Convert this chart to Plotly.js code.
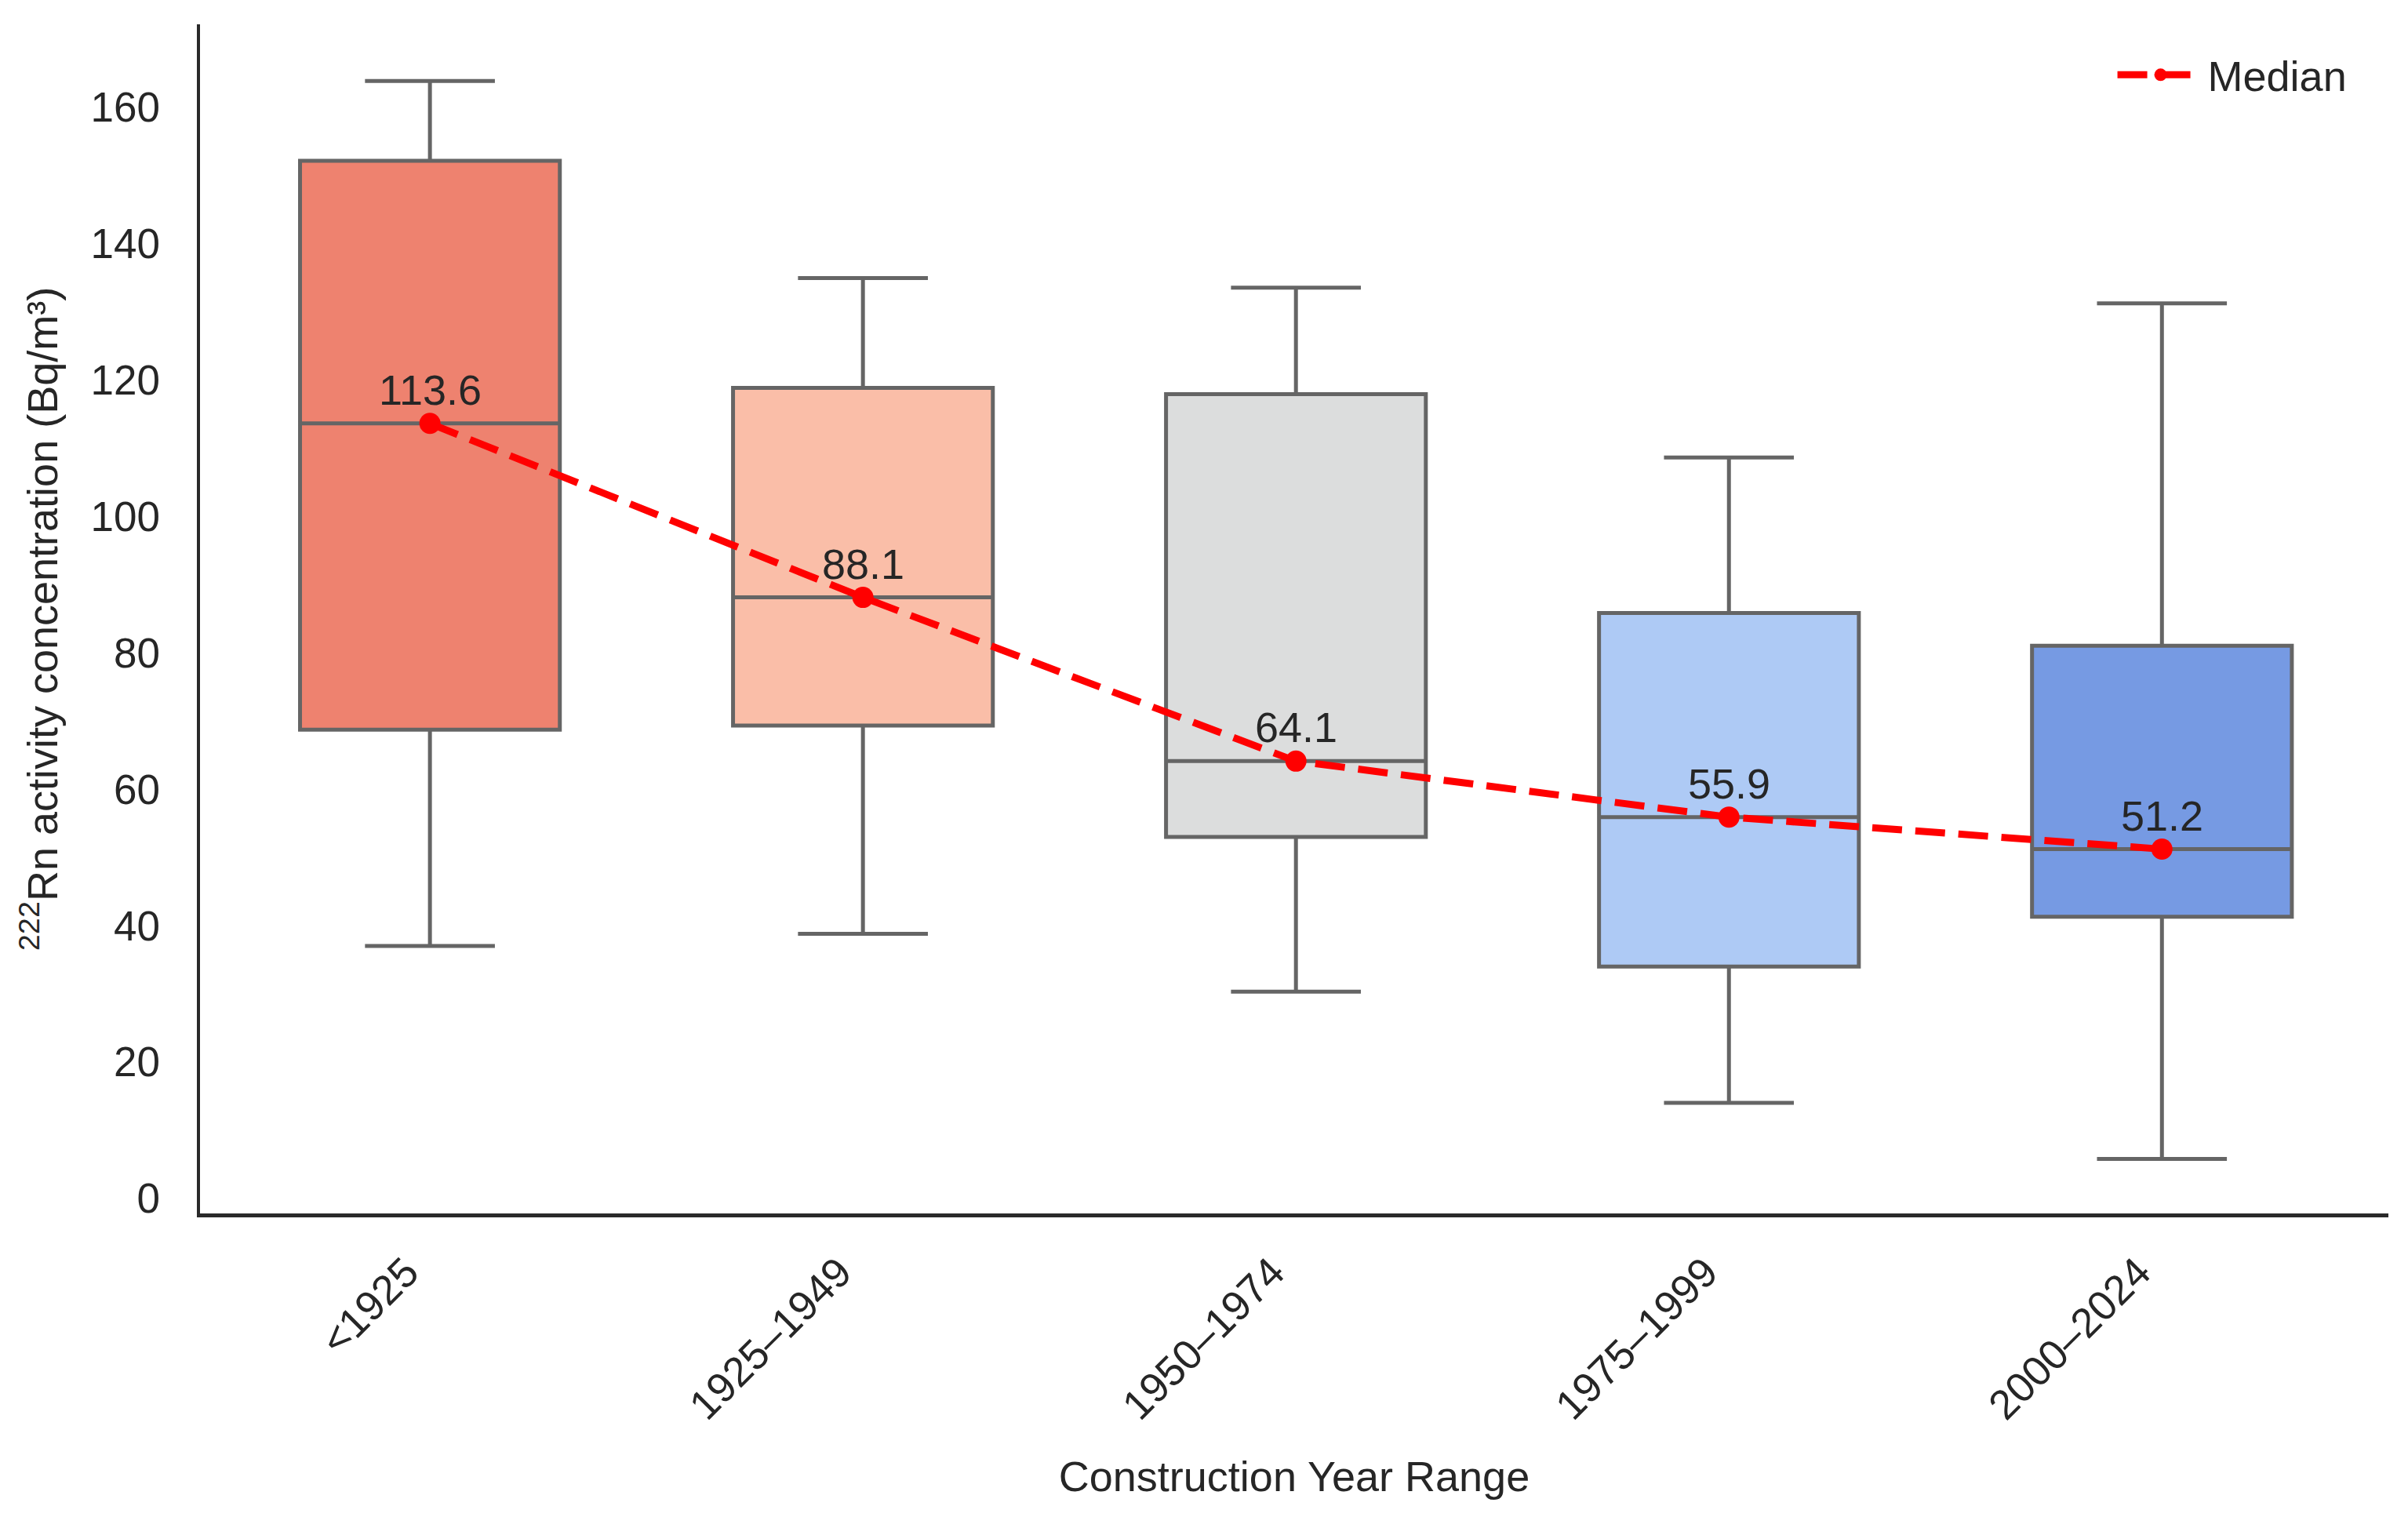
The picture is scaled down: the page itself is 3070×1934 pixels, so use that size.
<!DOCTYPE html>
<html>
<head>
<meta charset="utf-8">
<script src="https://cdn.plot.ly/plotly-3.0.1.min.js"></script>
<style>html,body{margin:0;padding:0;background:#fff;}</style>
</head>
<body>
<div id="chart" style="width:3070px;height:1934px;"></div>
<script>
const categories = ['<1925', '1925–1949', '1950–1974', '1975–1999', '2000–2024'];
const lowerWhisker = [37.0, 38.8, 30.3, 14.0, 5.8];
const q1Values = [68.7, 69.3, 53.0, 34.0, 41.3];
const medians = [113.6, 88.1, 64.1, 55.9, 51.2];
const q3Values = [152.1, 118.8, 117.9, 85.8, 81.0];
const upperWhisker = [163.8, 134.9, 133.5, 108.6, 131.2];
const boxColors = ['rgb(238,130,111)', 'rgb(250,190,168)', 'rgb(220,221,221)', 'rgb(174,202,245)', 'rgb(118,154,227)'];
const yTicks = [0, 20, 40, 60, 80, 100, 120, 140, 160];

const FONT = 'Liberation Sans, Arial, Helvetica, sans-serif';
const TXT = '#262626';

const traces = categories.map((c, i) => ({
  type: 'box',
  x: [c],
  q1: [q1Values[i]],
  median: [medians[i]],
  q3: [q3Values[i]],
  lowerfence: [lowerWhisker[i]],
  upperfence: [upperWhisker[i]],
  fillcolor: boxColors[i],
  line: {color: '#656565', width: 5},
  width: 0.6,
  whiskerwidth: 0.5,
  boxpoints: false,
  showlegend: false,
  hoverinfo: 'skip'
}));

traces.push({
  type: 'scatter',
  mode: 'lines+markers',
  name: 'Median',
  x: categories,
  y: medians,
  line: {color: '#ff0000', width: 9, dash: '38px,17px'},
  marker: {color: '#ff0000', size: 27},
  showlegend: true
});

const annotations = categories.map((c, i) => ({
  x: c,
  y: medians[i],
  xref: 'x',
  yref: 'y',
  text: medians[i].toFixed(1),
  showarrow: false,
  yanchor: 'bottom',
  yshift: 11,
  font: {family: FONT, size: 54, color: TXT}
}));

const layout = {
  width: 3070,
  height: 1934,
  margin: {l: 255, r: 25, t: 31, b: 387},
  paper_bgcolor: '#ffffff',
  plot_bgcolor: '#ffffff',
  font: {family: FONT, size: 53, color: TXT},
  boxmode: 'overlay',
  showlegend: true,
  legend: {
    x: 0.983, y: 0.985, xanchor: 'right', yanchor: 'top',
    bgcolor: 'rgba(255,255,255,0)',
    itemwidth: 110,
    font: {family: FONT, size: 54, color: TXT}
  },
  xaxis: {
    type: 'category',
    range: [-0.531, 4.523],
    tickangle: -45,
    ticks: '',
    showgrid: false,
    zeroline: false,
    showline: true,
    linecolor: '#2a2a2a',
    linewidth: 4.5,
    tickfont: {family: FONT, size: 53, color: TXT},
    ticklabelstandoff: 18,
    ticklabelshift: -30,
    title: {text: 'Construction Year Range', font: {family: FONT, size: 54, color: TXT}, standoff: 45},
    automargin: false
  },
  yaxis: {
    range: [-2.2, 172.1],
    tickvals: yTicks,
    ticktext: yTicks.map(String),
    ticks: '',
    showgrid: false,
    zeroline: false,
    showline: true,
    linecolor: '#2a2a2a',
    linewidth: 4.5,
    tickfont: {family: FONT, size: 53, color: TXT},
    ticklabelstandoff: 36,
    title: {text: '<sup>222</sup>Rn activity concentration (Bq/m³)', font: {family: FONT, size: 54, color: TXT}, standoff: 26},
    automargin: false
  },
  annotations: annotations
};

Plotly.newPlot('chart', traces, layout, {displayModeBar: false, staticPlot: true});
</script>
</body>
</html>
